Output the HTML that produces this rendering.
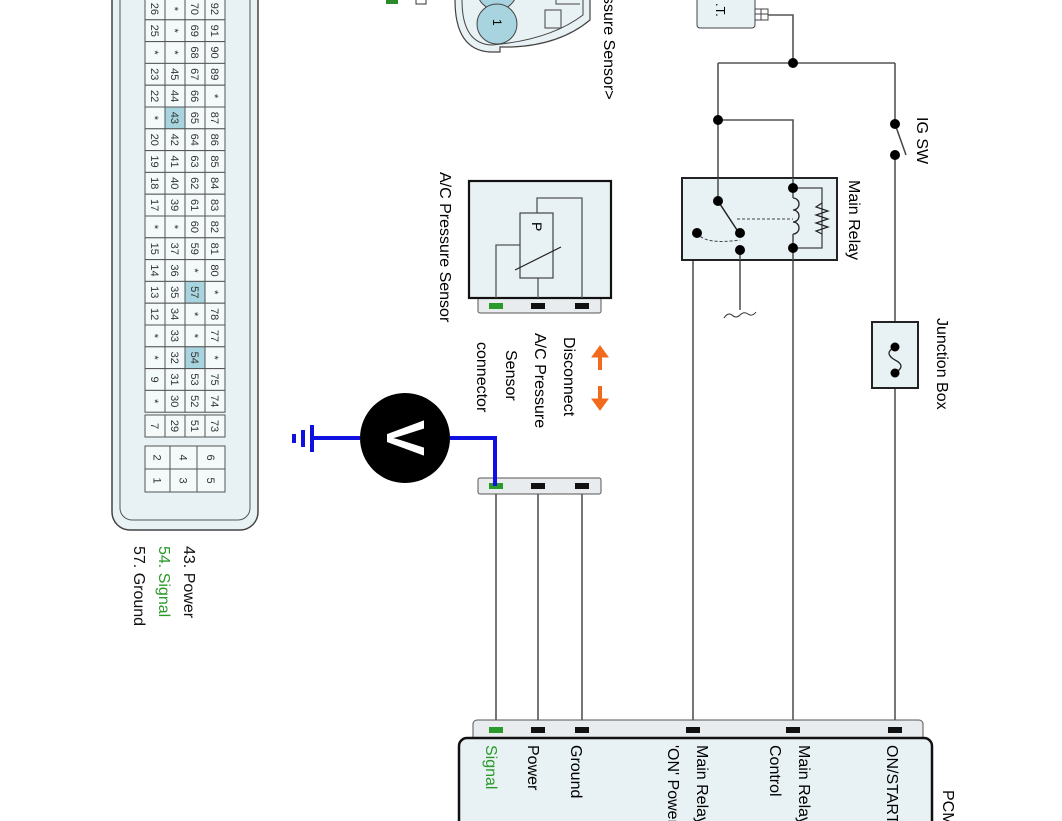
<!DOCTYPE html>
<html><head><meta charset="utf-8"><style>
html,body{margin:0;padding:0;background:#fff;}
svg{display:block;}
text{font-family:"Liberation Sans",sans-serif;}
</style></head><body>
<svg width="1062" height="821" viewBox="0 0 1062 821" xmlns="http://www.w3.org/2000/svg">
<rect x="112" y="-20" width="146" height="550" rx="18" fill="#e8f1f3" stroke="#444" stroke-width="1.5"/>
<rect x="120" y="-20" width="130" height="540" rx="12" fill="none" stroke="#555" stroke-width="1"/>
<g id="grid" font-size="11" fill="#333"></g>
<g font-size="16">
<text transform="translate(184,546) rotate(90)" fill="#111">43. Power</text>
<text transform="translate(159,546) rotate(90)" fill="#2a9a2a">54. Signal</text>
<text transform="translate(134,546) rotate(90)" fill="#111">57. Ground</text>
</g>
<rect x="386" y="-4" width="12" height="8" fill="#2a8a2a"/>
<path d="M416 -2 L416 4 L426 4 L426 -2" fill="none" stroke="#333"/>
<path d="M455 0 Q455 50 490 52 L500 52 L500 47 L512 47 Q560 45 590 20 L590 0" fill="#e8f1f3" stroke="#444" stroke-width="1.2"/>
<path d="M462 0 Q462 44 492 45 Q550 40 583 15 L583 0" fill="none" stroke="#444"/>
<circle cx="497" cy="-10" r="20" fill="#a8d4e0" stroke="#444"/>
<circle cx="497" cy="24" r="20" fill="#a8d4e0" stroke="#444"/>
<text transform="translate(493,19) rotate(90)" font-size="12">1</text>
<rect x="545" y="10" width="16" height="18" fill="none" stroke="#444"/>
<path d="M556 0 L556 4 L580 4" fill="none" stroke="#444"/>
<text transform="translate(604,-4) rotate(90)" font-size="16">ssure Sensor&gt;</text>
<rect x="697" y="-10" width="58" height="38" rx="3" fill="#e8f1f3" stroke="#444"/>
<text transform="translate(716,3) rotate(90)" font-size="13">.T.</text>
<rect x="755" y="9" width="13" height="11" fill="#fff" stroke="#444"/>
<path d="M761 9 V20 M755 14 H768" stroke="#444"/>
<g stroke="#555" stroke-width="1.6" fill="none">
<path d="M768 15 H793 V63"/>
<path d="M718 63 H895"/>
<path d="M718 63 V201"/>
<path d="M718 120 H793 V188"/>
<path d="M895 63 V124"/>
<path d="M895 155 V730"/>
<path d="M793 248 V730"/>
<path d="M740 250 V310"/>
<path d="M740 250 H693 V730"/>
<path d="M496 494 V730 M538 494 V730 M582 494 V730"/>
</g>
<path d="M895 124 L906 155" stroke="#444" stroke-width="1.5"/>
<circle cx="895" cy="124" r="5"/><circle cx="895" cy="155" r="5"/>
<text transform="translate(917,117) rotate(90)" font-size="16">IG SW</text>
<circle cx="793" cy="63" r="5"/><circle cx="718" cy="120" r="5"/>
<rect x="682" y="178" width="155" height="82" fill="#e8f1f3" stroke="#222" stroke-width="2"/>
<path d="M718 178 V201" stroke="#555" stroke-width="1.6"/>
<path d="M793 178 V188 M793 248 V260 M740 250 V260" stroke="#555" stroke-width="1.6"/>
<path d="M718 201 L737 230" stroke="#222" stroke-width="1.5"/>
<path d="M737 219 H793" stroke="#444" stroke-dasharray="3,2"/>
<path d="M697 233 Q705 245 740 240" stroke="#444" stroke-dasharray="3,2" fill="none"/>
<path d="M793 188 H822 V248 H793" fill="none" stroke="#444" stroke-width="1.3"/>
<path d="M822 203 L816 207 L828 211 L816 215 L828 219 L816 223 L828 227 L816 231 L822 234" fill="none" stroke="#222" stroke-width="1.2"/>
<path d="M793 198 a6 6 0 0 1 0 12 a6 6 0 0 1 0 12 a6 6 0 0 1 0 12" fill="none" stroke="#222" stroke-width="1.3"/>
<path d="M793 188 V198 M793 234 V248" stroke="#555" stroke-width="1.6"/>
<circle cx="718" cy="201" r="5"/><circle cx="740" cy="233" r="5"/><circle cx="740" cy="250" r="5"/><circle cx="697" cy="233" r="5"/>
<circle cx="793" cy="188" r="5"/><circle cx="793" cy="248" r="5"/>
<path d="M724 318 q4 -6 8 -3 q4 4 8 0 q4 -4 8 -1 q4 3 8 -2" fill="none" stroke="#333"/>
<text transform="translate(849,180) rotate(90)" font-size="16">Main Relay</text>
<rect x="872" y="322" width="46" height="66" fill="#e8f1f3" stroke="#222" stroke-width="2"/>
<path d="M895 347 q-12 6 0 13 q12 6 0 13" fill="none" stroke="#222" stroke-width="1.3"/>
<circle cx="895" cy="347" r="4.5"/><circle cx="895" cy="373" r="4.5"/>
<text transform="translate(937,318) rotate(90)" font-size="16">Junction Box</text>
<rect x="478" y="297" width="123" height="16" rx="2" fill="#e8ecee" stroke="#555"/>
<rect x="469" y="181" width="142" height="117" fill="#e8f1f3" stroke="#111" stroke-width="2.2"/>
<g stroke="#555" stroke-width="1.3" fill="none">
<path d="M496 298 V245 H520"/>
<path d="M538 298 V278"/>
<path d="M582 298 V198 H537 V213"/>
</g>
<rect x="520" y="213" width="33" height="65" fill="#e8f1f3" stroke="#444" stroke-width="1.2"/>
<text transform="translate(532,222) rotate(90)" font-size="14">P</text>
<path d="M515 270 L561 247" stroke="#222" stroke-width="1.2"/>
<rect x="489" y="303" width="14" height="6" fill="#2a9a2a"/><rect x="531" y="303" width="14" height="6" fill="#111"/><rect x="575" y="303" width="14" height="6" fill="#111"/>
<text transform="translate(440,172) rotate(90)" font-size="16">A/C Pressure Sensor</text>
<g fill="#f26a1b" stroke="#f26a1b">
<path d="M600 357 V370" stroke-width="4"/><path d="M592 357 L600 346 L608 357 Z"/>
<path d="M600 386 V399" stroke-width="4"/><path d="M592 399 L600 410 L608 399 Z"/>
</g>
<g font-size="16">
<text transform="translate(564,337) rotate(90)">Disconnect</text>
<text transform="translate(535,333) rotate(90)">A/C Pressure</text>
<text transform="translate(506,350) rotate(90)">Sensor</text>
<text transform="translate(477,342) rotate(90)">connector</text>
</g>
<rect x="478" y="478" width="123" height="16" rx="2" fill="#e8ecee" stroke="#555"/>
<rect x="489" y="483" width="14" height="6" fill="#2a9a2a"/><rect x="531" y="483" width="14" height="6" fill="#111"/><rect x="575" y="483" width="14" height="6" fill="#111"/>
<path d="M312 438 H360 M450 438 H495 V486" fill="none" stroke="#1010e0" stroke-width="4"/>
<path d="M312 425 V452 M303 430 V447 M294 434 V443" stroke="#1010e0" stroke-width="4"/>
<circle cx="405" cy="438" r="45" fill="#000"/>
<text transform="translate(387,438) rotate(90)" font-size="54" font-weight="bold" fill="#fff" text-anchor="middle">V</text>
<rect x="473" y="720" width="450" height="30" rx="4" fill="#e8ecee" stroke="#555"/>
<rect x="459" y="738" width="473" height="100" rx="8" fill="#e8f1f3" stroke="#111" stroke-width="2.5"/>
<rect x="489" y="727" width="14" height="6" fill="#2a9a2a"/>
<g fill="#111"><rect x="531" y="727" width="14" height="6"/><rect x="575" y="727" width="14" height="6"/><rect x="686" y="727" width="14" height="6"/><rect x="786" y="727" width="14" height="6"/><rect x="888" y="727" width="14" height="6"/></g>
<g font-size="16">
<text transform="translate(486,745) rotate(90)" fill="#2a9a2a">Signal</text>
<text transform="translate(528,745) rotate(90)">Power</text>
<text transform="translate(571,745) rotate(90)">Ground</text>
<text transform="translate(697,745) rotate(90)">Main Relay</text>
<text transform="translate(668,745) rotate(90)">'ON' Power</text>
<text transform="translate(799,745) rotate(90)">Main Relay</text>
<text transform="translate(770,745) rotate(90)">Control</text>
<text transform="translate(887,745) rotate(90)">ON/START</text>
<text transform="translate(943,790) rotate(90)">PCM</text>
</g>
</svg>
<script>
(function(){
var g=document.getElementById('grid');
var cols=[
["26","25","*","23","22","*","20","19","18","17","*","15","14","13","12","*","*","9","*"],
["*","*","*","45","44","43","42","41","40","39","*","37","36","35","34","33","32","31","30"],
["70","69","68","67","66","65","64","63","62","61","60","59","*","57","*","*","54","53","52"],
["92","91","90","89","*","87","86","85","84","83","82","81","80","*","78","77","*","75","74"]];
var xs=[145,165,185,205],w=20,h=21.8,y0=-2,ns="http://www.w3.org/2000/svg";
function cell(x,y,cw,ch,t,hl){
 var r=document.createElementNS(ns,'rect');r.setAttribute('x',x);r.setAttribute('y',y);r.setAttribute('width',cw);r.setAttribute('height',ch);
 r.setAttribute('fill',hl?'#a8d4e0':'#f4f9fa');r.setAttribute('stroke','#555');r.setAttribute('stroke-width','1');g.appendChild(r);
 var tx=document.createElementNS(ns,'text');tx.setAttribute('transform','translate('+(x+cw/2-4)+','+(y+ch/2)+') rotate(90)');
 tx.setAttribute('text-anchor','middle');tx.textContent=t;g.appendChild(tx);}
for(var c=0;c<4;c++)for(var r=0;r<19;r++){var t=cols[c][r];cell(xs[c],y0+r*h,w,h,t,t==="43"||t==="57"||t==="54");}
var last=["7","29","51","73"];for(var c=0;c<4;c++)cell(xs[c],415,w,22,last[c],false);
var a=[["2","4","6"],["1","3","5"]],xb=[145,170,197],wb=[25,27,28];
for(var r=0;r<2;r++)for(var c=0;c<3;c++)cell(xb[c],446+r*23,wb[c],23,a[r][c],false);
})();
</script>
</body></html>
